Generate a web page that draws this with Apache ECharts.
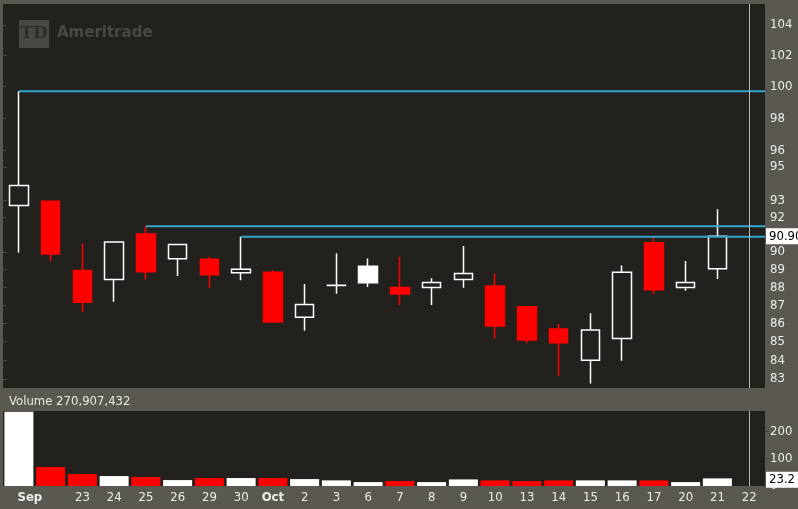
<!DOCTYPE html>
<html><head><meta charset="utf-8">
<script src="https://cdn.jsdelivr.net/npm/echarts@6/dist/echarts.min.js"></script>
<style>html,body{margin:0;padding:0;background:#5a5850;}#c{width:798px;height:509px;}</style>
</head><body><div id="c"></div>
<script>
// ---- data ----
const dates = ['2014-09-19','2014-09-22','2014-09-23','2014-09-24','2014-09-25','2014-09-26','2014-09-29','2014-09-30',
  '2014-10-01','2014-10-02','2014-10-03','2014-10-06','2014-10-07','2014-10-08','2014-10-09','2014-10-10','2014-10-13',
  '2014-10-14','2014-10-15','2014-10-16','2014-10-17','2014-10-20','2014-10-21','2014-10-22'];
const tickLabels = ['Sep','','23','24','25','26','29','30','Oct','2','3','6','7','8','9','10','13','14','15','16','17','20','21','22'];
const opens  = [92.70, 92.95, 88.94, 88.44, 91.03, 89.61, 89.59, 88.81, 88.85, 86.33, 88.10, 89.19, 87.99, 87.99, 88.44, 88.07, 86.91, 85.69, 84.00, 85.18, 90.53, 87.99, 89.04];
const closes = [93.89, 89.89, 87.17, 90.57, 88.87, 90.43, 88.70, 89.02, 86.07, 87.04, 88.11, 88.25, 87.62, 88.27, 88.78, 85.85, 85.09, 84.94, 85.63, 88.85, 87.86, 88.27, 90.90];
const lows   = [89.95, 89.45, 86.62, 87.19, 88.44, 88.64, 87.97, 88.40, 86.05, 85.59, 87.63, 88.01, 87.01, 87.01, 87.97, 85.18, 84.91, 83.17, 82.77, 83.97, 87.62, 87.80, 88.46];
const highs  = [99.70, 92.95, 90.48, 90.57, 91.51, 90.46, 89.72, 90.88, 88.95, 88.18, 89.93, 89.63, 89.72, 88.50, 90.34, 88.78, 86.95, 85.96, 86.55, 89.23, 90.91, 89.48, 92.49];
const volumes = [270.9, 69.2, 43.6, 36.3, 32.6, 21.6, 29.0, 29.0, 29.0, 25.3, 20.5, 14.3, 18.0, 14.3, 24.0, 20.5, 18.0, 20.5, 20.5, 20.5, 20.5, 14.3, 27.8];
const priceTicks = [83,84,85,86,87,88,89,90,92,93,95,96,98,100,102,104];
const volumeTicks = [0,100,200];
const levelValues = [99.70, 91.48, 90.88];
const levelStarts = [0, 4, 7];
const markerIndex = 23;
const lastPrice = 90.90;
const lastVolume = 23.2;
const totalVolumeText = '270,907,432';

// ---- styles ----
const BG = '#23211d', RED = '#ff0000', WHITE = '#ffffff', CYAN = '#33a8cf';
const FONT = "'DejaVu Sans Condensed','DejaVu Sans',sans-serif";
const PMIN = 82.53, PMAX = 105.4, VMAX = 274;

const candleData = opens.map((o, i) => {
  const c = closes[i];
  const up = i === 0 || c >= closes[i - 1];
  const col = up ? WHITE : RED;
  const fill = c < o ? col : BG;
  return { value: [o, c, lows[i], highs[i]], itemStyle: { color: fill, color0: fill, borderColor: col, borderColor0: col } };
});
const volData = volumes.map((v, i) => {
  const up = i === 0 || closes[i] >= closes[i - 1];
  return { value: v, itemStyle: { color: up ? WHITE : RED } };
});

// resistance lines drawn on a hidden slot-unit x axis (slot i centre = i + 0.5)
const levelSeries = levelValues.map((v, i) => ({
  type: 'line', xAxisIndex: 2, yAxisIndex: 0, symbol: 'none', silent: true, z: 3,
  lineStyle: { color: CYAN, width: 2 },
  data: [[levelStarts[i] + 0.5, v], [dates.length, v]]
}));

const chart = echarts.init(document.getElementById('c'), null, { renderer: 'canvas' });
chart.setOption({
  animation: false,
  backgroundColor: '#5a5850',
  textStyle: { fontFamily: FONT },
  title: {
    text: 'Volume ' + totalVolumeText, left: 4, top: 390,
    textStyle: { color: '#e6e6e6', fontSize: 13, fontWeight: 'normal', fontFamily: FONT }
  },
  graphic: [
    { type: 'rect', shape: { x: 19, y: 20, width: 30, height: 28 }, style: { fill: '#4a4843' }, silent: true },
    { type: 'text', x: 34, y: 34, style: { text: 'TD', fill: '#2e2c28', font: "bold 17px 'DejaVu Serif', serif", align: 'center', verticalAlign: 'middle' }, silent: true },
    { type: 'text', x: 57, y: 33, style: { text: 'Ameritrade', fill: '#4a4843', font: "bold 15px 'DejaVu Sans', sans-serif", verticalAlign: 'middle' }, silent: true }
  ],
  grid: [
    { left: 3, right: 33, top: 4, height: 384, show: true, backgroundColor: BG, borderWidth: 0 },
    { left: 3, right: 33, top: 411, height: 75, show: true, backgroundColor: BG, borderWidth: 0 }
  ],
  xAxis: [
    { type: 'category', gridIndex: 0, data: dates, boundaryGap: true,
      axisLine: { show: false }, axisTick: { show: false }, axisLabel: { show: false } },
    { type: 'category', gridIndex: 1, data: dates, boundaryGap: true,
      axisLine: { show: false }, axisTick: { show: false },
      axisLabel: {
        interval: 0, margin: 5, color: '#ececec', fontSize: 13, fontFamily: FONT,
        formatter: (v, i) => {
          const t = tickLabels[i];
          if (t === 'Sep') return '{s|' + t + '}';
          if (t === 'Oct') return '{b|' + t + '}';
          return t;
        },
        rich: {
          s: { fontWeight: 'bold', color: '#ececec', fontSize: 13, fontFamily: FONT, padding: [0, 0, 0, 22] },
          b: { fontWeight: 'bold', color: '#ececec', fontSize: 13, fontFamily: FONT }
        }
      } },
    { type: 'value', gridIndex: 0, min: 0, max: dates.length, show: false }
  ],
  yAxis: [
    { type: 'log', gridIndex: 0, position: 'right', min: PMIN, max: PMAX, logBase: 10,
      splitLine: { show: false }, axisLine: { show: false },
      axisTick: { show: true, length: 4, customValues: priceTicks, lineStyle: { color: '#44423c' } },
      axisLabel: { customValues: priceTicks, margin: 5, color: '#ececec', fontSize: 13, fontFamily: FONT } },
    { type: 'value', gridIndex: 1, position: 'right', min: 0, max: VMAX,
      splitLine: { show: false }, axisLine: { show: false },
      axisTick: { show: true, length: 4, customValues: volumeTicks, lineStyle: { color: '#44423c' } },
      axisLabel: { customValues: volumeTicks, margin: 5, color: '#ececec', fontSize: 13, fontFamily: FONT } }
  ],
  series: [
    {
      type: 'candlestick', xAxisIndex: 0, yAxisIndex: 0, barWidth: 19,
      itemStyle: { borderWidth: 1.5 },
      data: candleData,
      markLine: {
        silent: true, symbol: 'none', animation: false,
        label: { show: false },
        data: [
          [{ coord: [markerIndex, PMIN], lineStyle: { color: '#b8b8b4', width: 1, type: 'solid' } }, { coord: [markerIndex, PMAX] }],
          { yAxis: lastPrice, lineStyle: { color: 'rgba(0,0,0,0)', width: 1, type: 'solid' },
            label: { show: true, position: 'end', distance: 1, formatter: '90.90', color: '#000', backgroundColor: '#fff',
              fontSize: 13, fontFamily: FONT, padding: [2, 4, 1, 3] } }
        ]
      }
    },
    {
      type: 'bar', xAxisIndex: 1, yAxisIndex: 1, barWidth: 29,
      data: volData,
      markLine: {
        silent: true, symbol: 'none', animation: false,
        label: { show: false },
        data: [
          [{ coord: [markerIndex, 0], lineStyle: { color: '#b8b8b4', width: 1, type: 'solid' } }, { coord: [markerIndex, VMAX] }],
          { yAxis: lastVolume, lineStyle: { color: 'rgba(0,0,0,0)', width: 1, type: 'solid' },
            label: { show: true, position: 'end', distance: 1, formatter: String(lastVolume), color: '#000', backgroundColor: '#fff',
              fontSize: 13, fontFamily: FONT, padding: [2, 4, 1, 3] } }
        ]
      }
    }
  ].concat(levelSeries)
});
</script>
</body></html>
